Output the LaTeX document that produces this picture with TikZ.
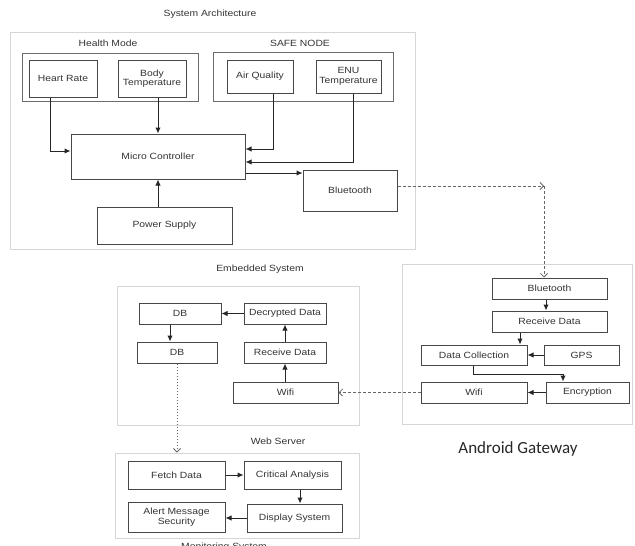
\documentclass[tikz,border=0pt]{standalone}
\usepackage{fontspec}
\setmainfont{Liberation Sans}[FakeStretch=1.15]
\newfontfamily\gwfont{Carlito}
\usetikzlibrary{arrows.meta}

\tikzset{
  x=1pt, y=-1pt,
  every node/.style={font=\fontsize{9}{9.5}\selectfont, text=black!80},
  box/.style={draw=black!72, line width=1pt, align=center, inner sep=0pt},
  group/.style={draw=black!16, line width=0.9pt, inner sep=0pt},
  subgroup/.style={draw=black!58, line width=1pt, inner sep=0pt},
  label/.style={inner sep=1pt},
  flow/.style={draw=black!85, line width=1pt, -{Latex[length=6pt,width=5.5pt]}},
  link/.style={draw=black!60, line width=0.8pt, dash pattern=on 3pt off 2pt,
    -{Straight Barb[length=3.5pt,width=7pt]}},
  dotlink/.style={link, dash pattern=on 1.6pt off 1.4pt},
}

% rectangle node from its corners: name, x1, y1, x2, y2, style, text
\newcommand\cornerbox[7]{%
  \node[#6, minimum width={(#4-#2)*1pt}, minimum height={(#5-#3)*1pt}]
    (#1) at ({(#2+#4)/2},{(#3+#5)/2}) {#7};}

\begin{document}
\begin{tikzpicture}
\path[use as bounding box, clip] (0,0) rectangle (635,546);

% ---------------- embedded system ----------------
\cornerbox{sys}{10}{32}{415}{249}{group}{}
\node[label] (tsys) at (210,14) {System Architecture};
\node[label] (thealth) at (108,43) {Health Mode};
\node[label] (tsafe) at (300,43) {SAFE NODE};
\cornerbox{health}{22}{53}{198}{101}{subgroup}{}
\cornerbox{safe}{213}{52}{393}{101}{subgroup}{}
\cornerbox{hr}{29}{60}{97}{97}{box}{Heart Rate}
\cornerbox{bt}{118}{60}{186}{97}{box}{Body\\Temperature}
\cornerbox{aq}{227}{60}{293}{93}{box}{Air Quality}
\cornerbox{enu}{316}{60}{381}{93}{box}{ENU\\Temperature}
\cornerbox{mc}{71}{134}{245}{179}{box}{Micro Controller}
\cornerbox{ps}{97}{207}{232}{244}{box}{Power Supply}
\cornerbox{blue}{303}{170}{397}{211}{box}{Bluetooth}

\draw[flow] (hr.south -| 50,0) |- (mc.west |- 0,151);
\draw[flow] (bt.south -| 158,0) -- (mc.north -| 158,0);
\draw[flow] (aq.south -| 273,0) |- (mc.east |- 0,149);
\draw[flow] (enu.south -| 353,0) |- (mc.east |- 0,162);
\draw[flow] (mc.east |- 0,173) -- (blue.west |- 0,173);
\draw[flow] (ps.north -| 158,0) -- (mc.south -| 158,0);

% ---------------- android gateway ----------------
\cornerbox{gw}{402}{264}{632}{424}{group}{}
\node[label, font=\gwfont\fontsize{17}{18}\selectfont, text=black!85] (tgw) at (518,449) {Android Gateway};
\cornerbox{gbt}{492}{278}{607}{299}{box}{Bluetooth}
\cornerbox{grd}{492}{311}{607}{332}{box}{Receive Data}
\cornerbox{dc}{421}{345}{527}{365}{box}{Data Collection}
\cornerbox{gps}{544}{345}{619}{365}{box}{GPS}
\cornerbox{gwifi}{421}{382}{527}{403}{box}{Wifi}
\cornerbox{enc}{546}{382}{629}{403}{box}{Encryption}

\coordinate (bend) at (544,186);
\draw[link] (blue.east |- bend) -- (bend);
\draw[link] (bend) -- (gbt.north -| bend);
\draw[flow] (gbt.south -| 546,0) -- (grd.north -| 546,0);
\draw[flow] (grd.south -| 520,0) -- (dc.north -| 520,0);
\draw[flow] (gps.west) -- (dc.east);
\draw[flow] (dc.south -| 473,0) |- (563,374) -- (enc.north -| 563,0);
\draw[flow] (enc.west) -- (gwifi.east);

% ---------------- web server ----------------
\node[label] (temb) at (260,269) {Embedded System};
\cornerbox{web}{117}{286}{359}{425}{group}{}
\cornerbox{db1}{139}{303}{221}{324}{box}{DB}
\cornerbox{dd}{244}{303}{326}{324}{box}{Decrypted Data}
\cornerbox{db2}{137}{342}{217}{363}{box}{DB}
\cornerbox{wrd}{244}{342}{326}{363}{box}{Receive Data}
\cornerbox{wwifi}{233}{382}{338}{403}{box}{Wifi}
\node[label] (tweb) at (278,441) {Web Server};

\draw[link] (gwifi.west) -- (wwifi.east);
\draw[flow] (wwifi.north -| 285,0) -- (wrd.south -| 285,0);
\draw[flow] (wrd.north -| 285,0) -- (dd.south -| 285,0);
\draw[flow] (dd.west) -- (db1.east);
\draw[flow] (db1.south -| 170,0) -- (db2.north -| 170,0);

% ---------------- monitoring system ----------------
\cornerbox{mon}{115}{453}{359}{538}{group}{}
\cornerbox{fd}{128}{461}{225}{489}{box}{Fetch Data}
\cornerbox{ca}{244}{461}{341}{489}{box}{Critical Analysis}
\cornerbox{am}{128}{502}{225}{532}{box}{Alert Message\\Security}
\cornerbox{ds}{247}{504}{342}{532}{box}{Display System}
\node[label] (tmon) at (224,547) {Monitoring System};

\draw[dotlink] (db2.south -| 177,0) -- (mon.north -| 177,0);
\draw[flow] (fd.east) -- (ca.west |- fd.east);
\draw[flow] (ca.south -| 300,0) -- (ds.north -| 300,0);
\draw[flow] (ds.west) -- (am.east |- ds.west);
\end{tikzpicture}
\end{document}
